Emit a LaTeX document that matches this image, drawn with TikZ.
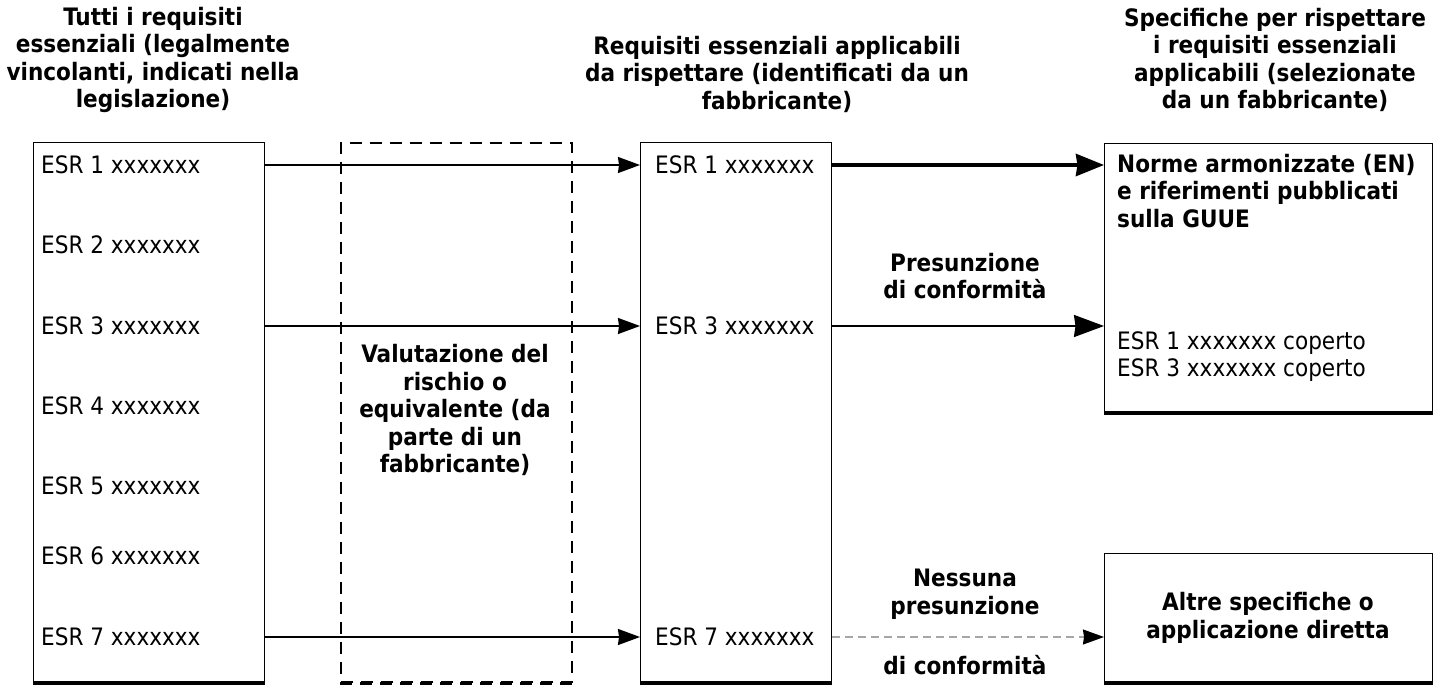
\documentclass[tikz,border=0pt]{standalone}
\usepackage{fontspec}
\setmainfont{DejaVu Sans Condensed}
\usetikzlibrary{arrows.meta}
\begin{document}
\begin{tikzpicture}[x=1pt,y=-1pt,
  box/.style={draw, line width=1.4pt, anchor=north west, inner sep=0pt},
  esr/.style={anchor=west, inner sep=0pt, font=\fontsize{24}{27}\selectfont},
  ttl/.style={align=center, inner sep=0pt, font=\bfseries\fontsize{24}{27.5}\selectfont},
  lbl/.style={align=center, inner sep=0pt, font=\bfseries\fontsize{24}{27.5}\selectfont},
  thinarrow/.style={line width=1.5pt, -{Stealth[length=22pt,width=16pt,inset=1pt]}},
  medarrow/.style={line width=2pt, -{Stealth[length=30pt,width=22pt,inset=1.5pt]}},
  thickarrow/.style={line width=4pt, -{Stealth[length=28pt,width=22pt,inset=1.5pt]}},
  grayarrow/.style={line width=1.2pt, gray!70, dash pattern=on 8pt off 5pt, -{Stealth[length=21pt,width=15pt,inset=1pt,color=black]}}
]
\useasboundingbox (0,0) rectangle (1441,685);
\fill[white] (0,0) rectangle (1441,685);

% boxes
\node[box, minimum width=231pt, minimum height=539pt] (lbox) at (33,142) {};
\node[box, minimum width=191pt, minimum height=539pt] (mbox) at (640,142) {};
\node[box, minimum width=328pt, minimum height=268pt] (rt) at (1104,143) {};
\node[box, minimum width=328pt, minimum height=128pt] (rb) at (1104,553) {};
\node[box, line width=1.6pt, dash pattern=on 12pt off 8pt, minimum width=231pt, minimum height=539pt] (dbox) at (340,142) {};
\foreach \n in {lbox,mbox,rt,rb}
  \draw[line width=3pt] ([yshift=-1pt]\n.south west) -- ([yshift=-1pt]\n.south east);
\draw[line width=3pt, dash pattern=on 12pt off 8pt] ([yshift=-1pt]dbox.south west) -- ([yshift=-1pt]dbox.south east);

% titles
\node[ttl] (t1) at (153,60) {Tutti i requisiti\\essenziali (legalmente\\vincolanti, indicati nella\\legislazione)};
\node[ttl] (t2) at (777,74) {Requisiti essenziali applicabili\\da rispettare (identificati da un\\fabbricante)};
\node[ttl] (t3) at (1275,60) {Specifiche per rispettare\\i requisiti essenziali\\applicabili (selezionate\\da un fabbricante)};

% left box entries
\node[esr] (l1) at (41,165) {ESR 1 xxxxxxx};
\node[esr] (l2) at (41,245) {ESR 2 xxxxxxx};
\node[esr] (l3) at (41,326) {ESR 3 xxxxxxx};
\node[esr] (l4) at (41,406) {ESR 4 xxxxxxx};
\node[esr] (l5) at (41,486) {ESR 5 xxxxxxx};
\node[esr] (l6) at (41,556) {ESR 6 xxxxxxx};
\node[esr] (l7) at (41,637) {ESR 7 xxxxxxx};

% middle box entries
\node[esr] (m1) at (655,165) {ESR 1 xxxxxxx};
\node[esr] (m3) at (655,326) {ESR 3 xxxxxxx};
\node[esr] (m7) at (655,637) {ESR 7 xxxxxxx};

% dashed box text
\node[lbl] (val) at (455,410) {Valutazione del\\rischio o\\equivalente (da\\parte di un\\fabbricante)};

% right boxes text
\node[anchor=north west, align=left, inner sep=0pt, font=\bfseries\fontsize{24}{27.5}\selectfont] (norme) at (1117,154) {Norme armonizzate (EN)\\e riferimenti pubblicati\\sulla GUUE};
\node[anchor=west, align=left, inner sep=0pt, font=\fontsize{24}{27}\selectfont] (cop) at (1117,357) {ESR 1 xxxxxxx coperto\\ESR 3 xxxxxxx coperto};
\node[lbl] (altre) at (1268,618) {Altre specifiche o\\applicazione diretta};

% connector labels
\node[lbl] (pres) at (965,276) {Presunzione\\di conformità};
\node[lbl] (ness) at (965,594) {Nessuna\\presunzione};
\node[lbl] (dic) at (965,665) {di conformità};

% connectors
\draw[thinarrow] (l1 -| lbox.east) -- (l1 -| mbox.west);
\draw[thinarrow] (l3 -| lbox.east) -- (l3 -| mbox.west);
\draw[thinarrow] (l7 -| lbox.east) -- (l7 -| mbox.west);
\draw[thickarrow] (m1 -| mbox.east) -- (m1 -| rt.west);
\draw[medarrow] (m3 -| mbox.east) -- (m3 -| rt.west);
\draw[grayarrow] (m7 -| mbox.east) -- (m7 -| rb.west);
\end{tikzpicture}
\end{document}
